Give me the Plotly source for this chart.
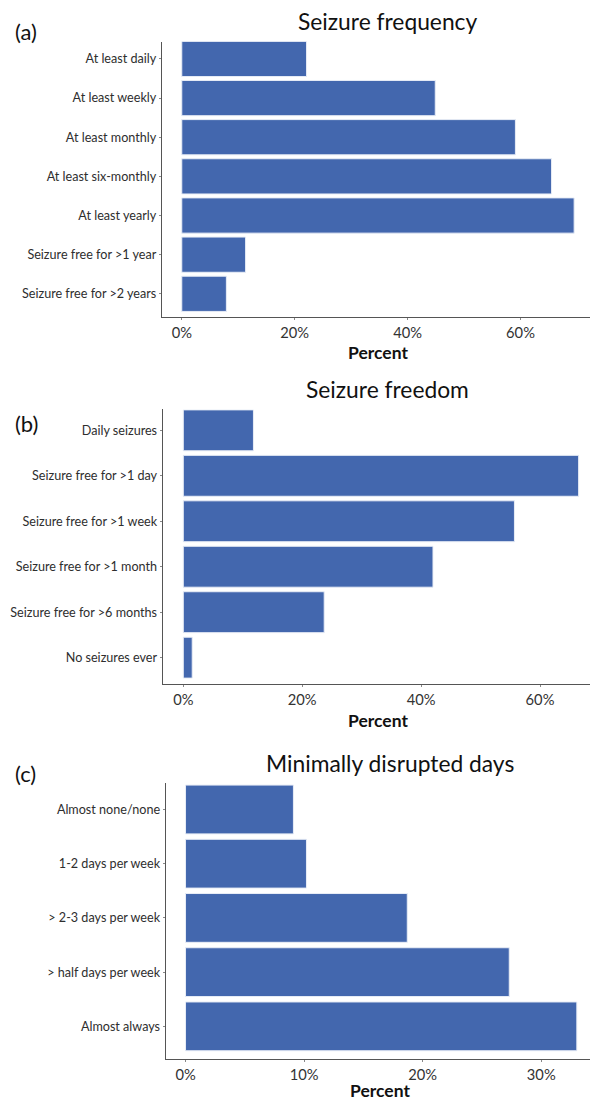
import plotly.graph_objects as go

# ---- data ----
freq_labels = ["At least daily", "At least weekly", "At least monthly",
               "At least six-monthly", "At least yearly",
               "Seizure free for >1 year", "Seizure free for >2 years"]
freq_values = [22.1, 44.9, 59.1, 65.5, 69.5, 11.3, 7.9]

freedom_labels = ["Daily seizures", "Seizure free for >1 day",
                  "Seizure free for >1 week", "Seizure free for >1 month",
                  "Seizure free for >6 months", "No seizures ever"]
freedom_values = [11.8, 66.5, 55.7, 42.0, 23.7, 1.5]

disrupt_labels = ["Almost none/none", "1-2 days per week", "> 2-3 days per week",
                  "> half days per week", "Almost always"]
disrupt_values = [9.1, 10.2, 18.7, 27.3, 33.0]

freq_ticks = [0, 20, 40, 60]
freedom_ticks = [0, 20, 40, 60]
disrupt_ticks = [0, 10, 20, 30]

# ---- page geometry (pixels) ----
W, H = 590, 1101
FONT = "Lato"
BAR = "#4367AE"
AXIS = "#555555"


def fx(px):
    return px / W


def fy(px):
    return 1 - px / H


panels = [
    dict(labels=freq_labels, values=freq_values, ticks=freq_ticks,
         xl=161.8, xr=[-3.54, 72.31], yt=41.7, yb=317.3, yr=[6.6, -0.44],
         title="Seizure frequency", tpos=(387.6, 21), tag="(a)", gpos=(26, 32),
         apos=(377.8, 353)),
    dict(labels=freedom_labels, values=freedom_values, ticks=freedom_ticks,
         xl=162.6, xr=[-3.48, 68.41], yt=409.3, yb=684.3, yr=[5.586, -0.463],
         title="Seizure freedom", tpos=(387.7, 389), tag="(b)", gpos=(26, 423),
         apos=(377.9, 720.5)),
    dict(labels=disrupt_labels, values=disrupt_values, ticks=disrupt_ticks,
         xl=165.6, xr=[-1.68, 34.11], yt=782.7, yb=1059, yr=[4.602, -0.494],
         title="Minimally disrupted days", tpos=(389.5, 763), tag="(c)", gpos=(25, 773),
         apos=(379.6, 1090)),
]

fig = go.Figure()
annotations = []

for i, p in enumerate(panels, start=1):
    xa = "x" if i == 1 else f"x{i}"
    ya = "y" if i == 1 else f"y{i}"
    fig.add_trace(go.Bar(
        x=p["values"], y=p["labels"], orientation="h",
        marker=dict(color=BAR, line=dict(color="#e8edf6", width=1)),
        xaxis=xa, yaxis=ya, showlegend=False, hoverinfo="x+y",
    ))
    xkey = "xaxis" if i == 1 else f"xaxis{i}"
    ykey = "yaxis" if i == 1 else f"yaxis{i}"
    fig.update_layout(**{
        xkey: dict(
            domain=[fx(p["xl"]), 1], range=p["xr"], anchor=ya,
            tickmode="array", tickvals=p["ticks"],
            ticktext=[f"{t}%" for t in p["ticks"]],
            showgrid=False, zeroline=False, showline=True,
            linecolor=AXIS, linewidth=1, ticks="outside", ticklen=2,
            tickcolor="#888888", tickwidth=1,
            tickfont=dict(family=FONT, size=14.7, color="#333333"),
            fixedrange=True,
        ),
        ykey: dict(
            domain=[fy(p["yb"]), fy(p["yt"])], range=p["yr"], anchor=xa,
            type="category", categoryorder="array", categoryarray=p["labels"],
            showgrid=False, zeroline=False, showline=True,
            linecolor=AXIS, linewidth=1, ticks="outside", ticklen=2,
            tickcolor="#888888", tickwidth=1,
            tickfont=dict(family=FONT, size=12.6, color="#2e2e2e"),
            fixedrange=True,
        ),
    })
    annotations.append(dict(
        text=p["title"], x=fx(p["tpos"][0]), y=fy(p["tpos"][1]),
        xref="paper", yref="paper", xanchor="center", yanchor="middle",
        showarrow=False, font=dict(family=FONT, size=22.8, color="#111111")))
    annotations.append(dict(
        text=p["tag"], x=fx(p["gpos"][0]), y=fy(p["gpos"][1]),
        xref="paper", yref="paper", xanchor="center", yanchor="middle",
        showarrow=False, font=dict(family=FONT, size=22, color="#111111")))
    annotations.append(dict(
        text="<b>Percent</b>", x=fx(p["apos"][0]), y=fy(p["apos"][1]),
        xref="paper", yref="paper", xanchor="center", yanchor="middle",
        showarrow=False, font=dict(family=FONT, size=17.5, color="#111111")))

fig.update_layout(
    width=W, height=H,
    margin=dict(l=0, r=0, t=0, b=0),
    paper_bgcolor="white", plot_bgcolor="white",
    bargap=0.1,
    annotations=annotations,
)

fig.write_html("out.html")
